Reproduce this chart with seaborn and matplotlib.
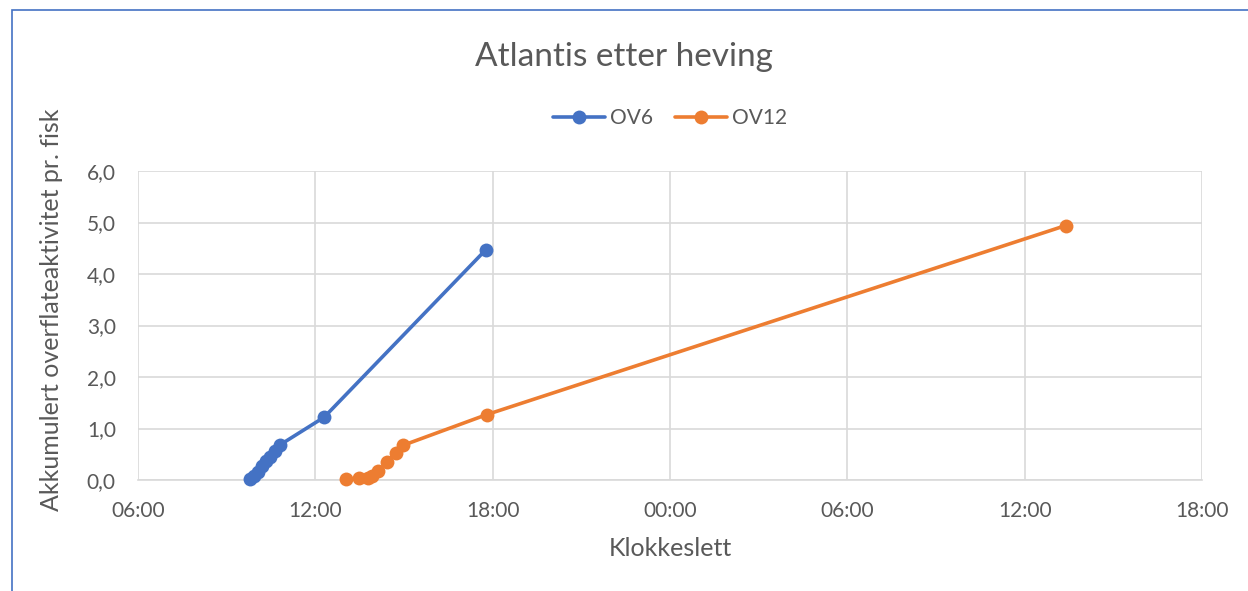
import matplotlib
matplotlib.use("Agg")
import matplotlib.pyplot as plt
import matplotlib.dates as mdates
from matplotlib.patches import Rectangle
import seaborn as sns
import pandas as pd

ov6_times = ["2021-01-01 09:47", "2021-01-01 09:55", "2021-01-01 10:03", "2021-01-01 10:12",
             "2021-01-01 10:20", "2021-01-01 10:28", "2021-01-01 10:38", "2021-01-01 10:48",
             "2021-01-01 12:18", "2021-01-01 17:46"]
ov6_values = [0.02, 0.07, 0.15, 0.28, 0.36, 0.45, 0.56, 0.68, 1.22, 4.47]

ov12_times = ["2021-01-01 13:03", "2021-01-01 13:28", "2021-01-01 13:46", "2021-01-01 13:56",
              "2021-01-01 14:08", "2021-01-01 14:26", "2021-01-01 14:43", "2021-01-01 14:57",
              "2021-01-01 17:48", "2021-01-02 13:23"]
ov12_values = [0.02, 0.03, 0.04, 0.08, 0.18, 0.35, 0.53, 0.67, 1.27, 4.94]

series_names = ["OV6", "OV12"]
colors = ["#4472C4", "#ED7D31"]
y_ticks = [0, 1, 2, 3, 4, 5, 6]
y_tick_labels = ["0,0", "1,0", "2,0", "3,0", "4,0", "5,0", "6,0"]

df = pd.concat([
    pd.DataFrame({"t": pd.to_datetime(ov6_times), "v": ov6_values, "s": "OV6"}),
    pd.DataFrame({"t": pd.to_datetime(ov12_times), "v": ov12_values, "s": "OV12"}),
])

sns.set_theme(style="white")
plt.rcParams["font.family"] = ["Lato", "DejaVu Sans"]
text_color = "#595959"

fig = plt.figure(figsize=(12.48, 5.91), dpi=100)
ax = fig.add_axes([138/1248, 1-480/591, (1202-138)/1248, (480-171)/591])

sns.lineplot(data=df, x="t", y="v", hue="s", hue_order=series_names, palette=colors,
             marker="o", markersize=10, markeredgewidth=0, linewidth=2.6, ax=ax,
             sort=False, estimator=None, legend=True)
for line in ax.get_lines():
    line.set_clip_on(False)
    line.set_zorder(5)

ax.set_xlim(pd.Timestamp("2021-01-01 06:00"), pd.Timestamp("2021-01-02 18:00"))
ax.set_ylim(0, 6)
ax.set_yticks(y_ticks)
ax.set_yticklabels(y_tick_labels)
ax.xaxis.set_major_locator(mdates.HourLocator(byhour=[0, 6, 12, 18]))
ax.xaxis.set_major_formatter(mdates.DateFormatter("%H:%M"))

ax.grid(True, color="#D9D9D9", linewidth=1.2)
ax.set_axisbelow(True)
for side in ["top", "right", "left"]:
    ax.spines[side].set_visible(False)
ax.spines["bottom"].set_color("#D9D9D9")
ax.spines["bottom"].set_linewidth(1.2)
ax.tick_params(axis="both", colors=text_color, labelsize=15, length=0)
ax.tick_params(axis="x", pad=15)
ax.tick_params(axis="y", pad=16)

ax.set_xlabel("Klokkeslett", fontsize=18, color=text_color)
ax.set_ylabel("Akkumulert overflateaktivitet pr. fisk", fontsize=18, color=text_color)
ax.xaxis.set_label_coords(0.5, (480-549)/309)
ax.xaxis.label.set_va("center")
ax.yaxis.set_label_coords((52-138)/1064, (480-310)/309)
ax.yaxis.label.set_va("center")

handles, labels = ax.get_legend_handles_labels()
ax.legend(handles, labels, loc="center", bbox_to_anchor=(0.5, 1 + (171-118)/309), ncol=2,
          frameon=False, fontsize=15, labelcolor=text_color, handlelength=2.5, columnspacing=1.05,
          handletextpad=0.25)

fig.text(0.5, 1-57/591, "Atlantis etter heving", ha="center", va="center", fontsize=24, color=text_color)

fig.patches.append(Rectangle((12/1248, -0.1), 1.2, 1-10/591+0.1, transform=fig.transFigure,
                             fill=False, edgecolor="#4472C4", linewidth=1.2))

fig.savefig("out.png", dpi=100)
